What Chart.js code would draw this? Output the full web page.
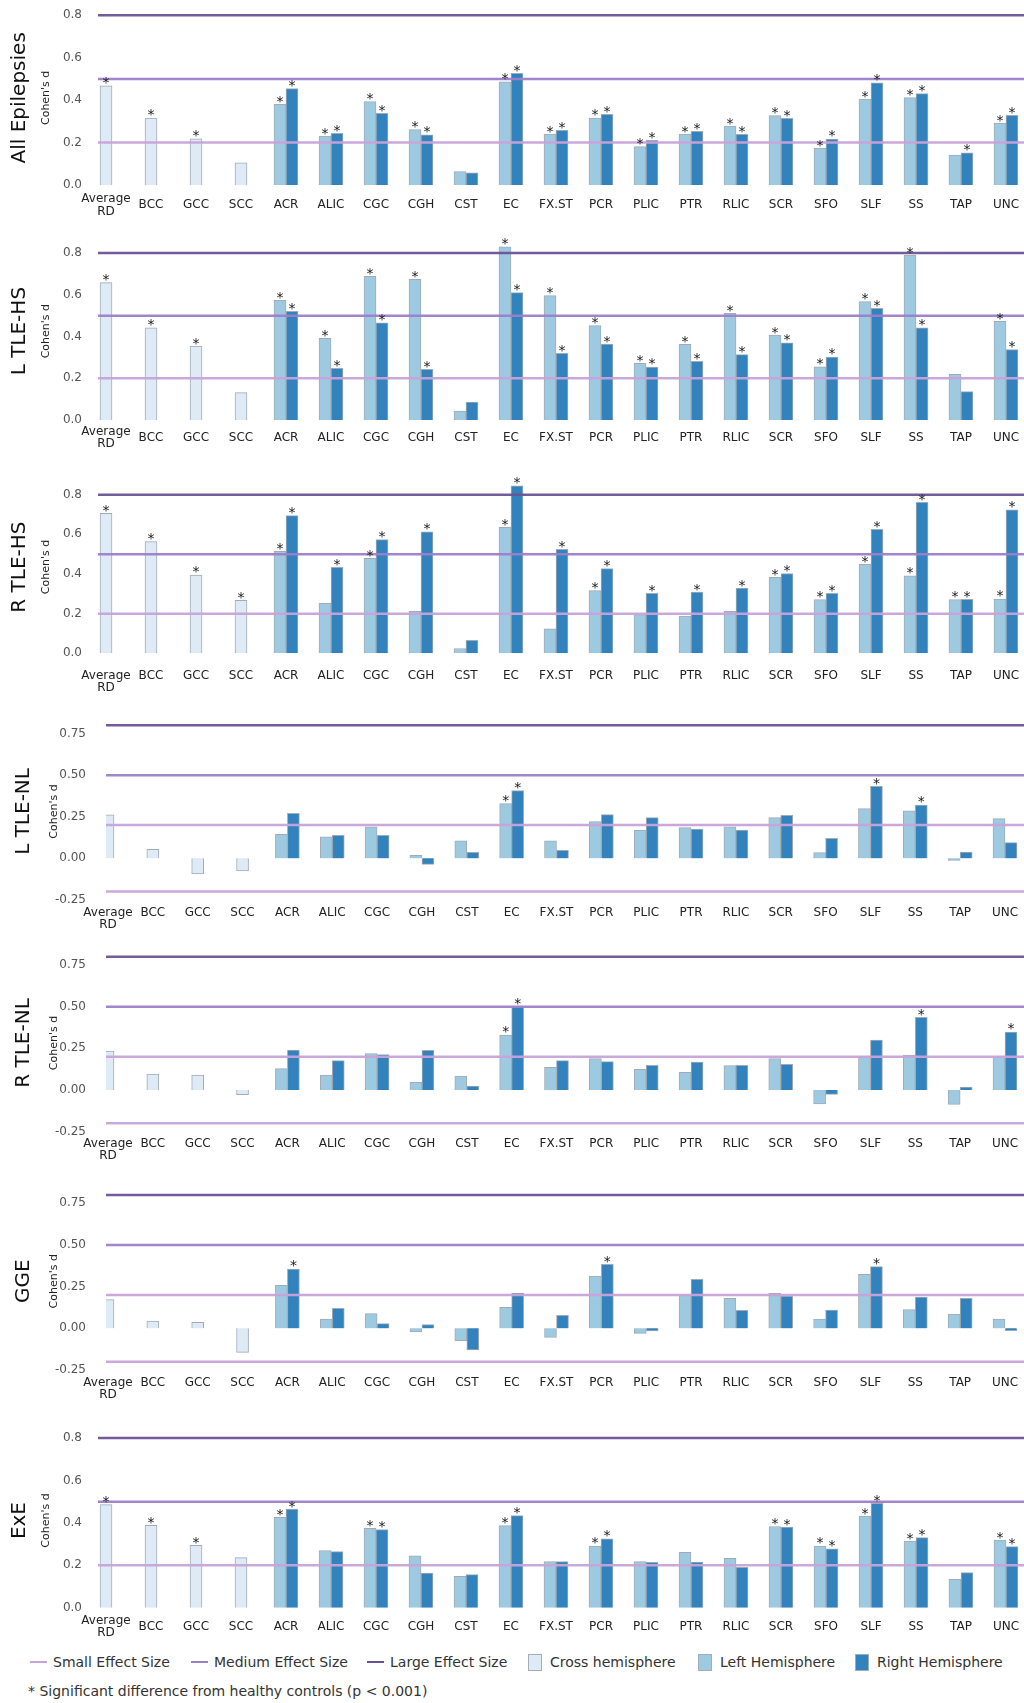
<!DOCTYPE html>
<html>
<head>
<meta charset="utf-8">
<title>Cohen's d by white matter tract</title>
<script src="https://cdn.jsdelivr.net/npm/chart.js@4.4.1/dist/chart.umd.min.js"></script>
<style>
  html, body { margin: 0; padding: 0; background: #fff; }
  #page { position: relative; width: 1024px; height: 1703px; overflow: hidden; background: #fff;
          font-family: 'DejaVu Sans', sans-serif; }
  #page canvas { position: absolute; left: 0; }
  .leg-item { position: absolute; font-size: 14px; color: #333; white-space: nowrap; line-height: 18px; }
  .leg-line { position: absolute; height: 2px; width: 17px; }
  .leg-box { position: absolute; width: 12px; height: 15px; border: 1px solid #a3adb8; }
</style>
</head>
<body>
<div id="page"></div>
<script>
// ---- categories -------------------------------------------------------
const tractLabels = [['Average', 'RD'], 'BCC', 'GCC', 'SCC', 'ACR', 'ALIC', 'CGC', 'CGH', 'CST', 'EC',
  'FX.ST', 'PCR', 'PLIC', 'PTR', 'RLIC', 'SCR', 'SFO', 'SLF', 'SS', 'TAP', 'UNC'];
const crossCount = 4;   // Average RD, BCC, GCC, SCC are cross-hemisphere measures

// ---- effect size reference lines and series names --------------------------
const effectSizes = [0.2, 0.5, 0.8];
const effectNames = ['Small Effect Size', 'Medium Effect Size', 'Large Effect Size'];
const seriesNames = ['Cross hemisphere', 'Left Hemisphere', 'Right Hemisphere'];
const positiveTicks = [0, 0.2, 0.4, 0.6, 0.8];
const signedTicks = [-0.25, 0, 0.25, 0.5, 0.75];
const footnote = '* Significant difference from healthy controls (p < 0.001)';

// ---- All Epilepsies ---------------------------------------------------
const allEpCross = [0.468, 0.316, 0.218, 0.105];
const allEpLeft  = [0.380, 0.231, 0.393, 0.261, 0.063, 0.486, 0.240, 0.316, 0.181, 0.240, 0.278, 0.327, 0.174, 0.405, 0.412, 0.141, 0.292];
const allEpRight = [0.454, 0.244, 0.338, 0.237, 0.057, 0.526, 0.258, 0.333, 0.211, 0.253, 0.239, 0.314, 0.217, 0.482, 0.431, 0.152, 0.328];
const allEpSigCross = [1, 1, 1, 0];
const allEpSigLeft  = [1, 1, 1, 1, 0, 1, 1, 1, 1, 1, 1, 1, 1, 1, 1, 0, 1];
const allEpSigRight = [1, 1, 1, 1, 0, 1, 1, 1, 1, 1, 1, 1, 1, 1, 1, 1, 1];

// ---- L TLE-HS ---------------------------------------------------------
const lHsCross = [0.658, 0.442, 0.354, 0.131];
const lHsLeft  = [0.573, 0.391, 0.688, 0.674, 0.043, 0.829, 0.596, 0.452, 0.271, 0.362, 0.511, 0.407, 0.255, 0.567, 0.790, 0.219, 0.473];
const lHsRight = [0.521, 0.248, 0.466, 0.243, 0.086, 0.610, 0.319, 0.364, 0.254, 0.281, 0.313, 0.370, 0.302, 0.535, 0.442, 0.136, 0.337];
const lHsSigCross = [1, 1, 1, 0];
const lHsSigLeft  = [1, 1, 1, 1, 0, 1, 1, 1, 1, 1, 1, 1, 1, 1, 1, 0, 1];
const lHsSigRight = [1, 1, 1, 1, 0, 1, 1, 1, 1, 1, 1, 1, 1, 1, 1, 0, 1];

// ---- R TLE-HS ---------------------------------------------------------
const rHsCross = [0.706, 0.563, 0.395, 0.267];
const rHsLeft  = [0.514, 0.252, 0.479, 0.212, 0.024, 0.635, 0.123, 0.316, 0.195, 0.188, 0.212, 0.383, 0.271, 0.449, 0.390, 0.271, 0.274];
const rHsRight = [0.694, 0.434, 0.573, 0.613, 0.066, 0.845, 0.524, 0.427, 0.303, 0.309, 0.329, 0.402, 0.303, 0.625, 0.761, 0.272, 0.724];
const rHsSigCross = [1, 1, 1, 1];
const rHsSigLeft  = [1, 0, 1, 0, 0, 1, 0, 1, 0, 0, 0, 1, 1, 1, 1, 1, 1];
const rHsSigRight = [1, 1, 1, 1, 0, 1, 1, 1, 1, 1, 1, 1, 1, 1, 1, 1, 1];

// ---- L TLE-NL ---------------------------------------------------------
const lNlCross = [0.261, 0.054, -0.094, -0.076];
const lNlLeft  = [0.144, 0.130, 0.189, 0.018, 0.106, 0.329, 0.106, 0.221, 0.168, 0.185, 0.189, 0.245, 0.034, 0.299, 0.285, -0.012, 0.239];
const lNlRight = [0.271, 0.138, 0.138, -0.036, 0.036, 0.407, 0.048, 0.263, 0.245, 0.176, 0.170, 0.259, 0.120, 0.433, 0.321, 0.038, 0.094];
const lNlSigCross = [0, 0, 0, 0];
const lNlSigLeft  = [0, 0, 0, 0, 0, 1, 0, 0, 0, 0, 0, 0, 0, 0, 0, 0, 0];
const lNlSigRight = [0, 0, 0, 0, 0, 1, 0, 0, 0, 0, 0, 0, 0, 1, 1, 0, 0];

// ---- R TLE-NL ---------------------------------------------------------
const rNlCross = [0.234, 0.096, 0.090, -0.028];
const rNlLeft  = [0.128, 0.090, 0.218, 0.046, 0.084, 0.330, 0.136, 0.188, 0.124, 0.106, 0.146, 0.188, -0.084, 0.200, 0.210, -0.086, 0.200];
const rNlRight = [0.240, 0.176, 0.212, 0.238, 0.024, 0.500, 0.176, 0.170, 0.148, 0.168, 0.148, 0.154, -0.026, 0.300, 0.436, 0.018, 0.348];
const rNlSigCross = [0, 0, 0, 0];
const rNlSigLeft  = [0, 0, 0, 0, 0, 1, 0, 0, 0, 0, 0, 0, 0, 0, 0, 0, 0];
const rNlSigRight = [0, 0, 0, 0, 0, 1, 0, 0, 0, 0, 0, 0, 0, 0, 1, 0, 1];

// ---- GGE --------------------------------------------------------------
const ggeCross = [0.172, 0.044, 0.036, -0.144];
const ggeLeft  = [0.258, 0.056, 0.088, -0.022, -0.074, 0.126, -0.054, 0.314, -0.030, 0.198, 0.180, 0.210, 0.056, 0.324, 0.112, 0.086, 0.056];
const ggeRight = [0.356, 0.120, 0.028, 0.022, -0.130, 0.212, 0.078, 0.384, -0.016, 0.294, 0.108, 0.194, 0.110, 0.370, 0.188, 0.180, -0.014];
const ggeSigCross = [0, 0, 0, 0];
const ggeSigLeft  = [0, 0, 0, 0, 0, 0, 0, 0, 0, 0, 0, 0, 0, 0, 0, 0, 0];
const ggeSigRight = [1, 0, 0, 0, 0, 0, 0, 1, 0, 0, 0, 0, 0, 1, 0, 0, 0];

// ---- ExE --------------------------------------------------------------
const exeCross = [0.486, 0.388, 0.294, 0.236];
const exeLeft  = [0.426, 0.269, 0.374, 0.245, 0.148, 0.387, 0.217, 0.291, 0.217, 0.261, 0.233, 0.383, 0.291, 0.432, 0.314, 0.134, 0.319];
const exeRight = [0.465, 0.264, 0.368, 0.163, 0.156, 0.434, 0.217, 0.325, 0.214, 0.215, 0.190, 0.380, 0.278, 0.492, 0.330, 0.165, 0.288];
const exeSigCross = [1, 1, 1, 0];
const exeSigLeft  = [1, 0, 1, 0, 0, 1, 0, 1, 0, 0, 0, 1, 1, 1, 1, 0, 1];
const exeSigRight = [1, 0, 1, 0, 0, 1, 0, 1, 0, 0, 0, 1, 1, 1, 1, 0, 1];

// ---- styling ----------------------------------------------------------
const effectColors = ['#c8a3d9', '#9c80cb', '#6b5297'];
const barColors = ['#deebf7', '#9ecae1', '#3182bd'];
const barEdge = '#a0abb6';
const FONT = "'DejaVu Sans', sans-serif";

// Panel table built from the arrays above
const panels = [
  { title: 'All Epilepsies', cross: allEpCross, left: allEpLeft, right: allEpRight, sig: [allEpSigCross, allEpSigLeft, allEpSigRight] },
  { title: 'L TLE-HS', cross: lHsCross, left: lHsLeft, right: lHsRight, sig: [lHsSigCross, lHsSigLeft, lHsSigRight] },
  { title: 'R TLE-HS', cross: rHsCross, left: rHsLeft, right: rHsRight, sig: [rHsSigCross, rHsSigLeft, rHsSigRight] },
  { title: 'L TLE-NL', cross: lNlCross, left: lNlLeft, right: lNlRight, sig: [lNlSigCross, lNlSigLeft, lNlSigRight] },
  { title: 'R TLE-NL', cross: rNlCross, left: rNlLeft, right: rNlRight, sig: [rNlSigCross, rNlSigLeft, rNlSigRight] },
  { title: 'GGE', cross: ggeCross, left: ggeLeft, right: ggeRight, sig: [ggeSigCross, ggeSigLeft, ggeSigRight] },
  { title: 'ExE', cross: exeCross, left: exeLeft, right: exeRight, sig: [exeSigCross, exeSigLeft, exeSigRight] }
];

// Page layout of each panel (canvas placement, plot box, axis ranges)
const pos = { left: 98, first: 106, step: 45, titleX: 20, unitX: 46, tickPad: 8, ticks: positiveTicks, digits: 1, yMin: 0 };
const neg = { left: 106, first: 108, step: 44.85, titleX: 24, unitX: 54, tickPad: 12, ticks: signedTicks, digits: 2, yMin: -0.25 };
const rows = [
  Object.assign({}, pos, { top: 0,    h: 228, areaTop: 4.7,    areaBottom: 185,    yMax: 0.85, labelPad: 6,     align: 'center' }),
  Object.assign({}, pos, { top: 228,  h: 238, areaTop: 236.3,  areaBottom: 420,    yMax: 0.88, labelPad: 3.5,   align: 'center' }),
  Object.assign({}, pos, { top: 466,  h: 239, areaTop: 474.8,  areaBottom: 653.3,  yMax: 0.9,  labelPad: 8,     align: 'near' }),
  Object.assign({}, neg, { top: 705,  h: 235, areaTop: 717.0,  areaBottom: 899.9,  yMax: 0.85, labelPad: -1.75, align: 'near' }),
  Object.assign({}, neg, { top: 940,  h: 235, areaTop: 948.3,  areaBottom: 1131.7, yMax: 0.85, labelPad: -2.5,  align: 'near' }),
  Object.assign({}, neg, { top: 1175, h: 237, areaTop: 1186.6, areaBottom: 1370,   yMax: 0.85, labelPad: -1.75, align: 'near' }),
  Object.assign({}, pos, { top: 1412, h: 233, areaTop: 1427.4, areaBottom: 1607.7, yMax: 0.85, labelPad: 4.8,   align: 'center' })
];

// Effect-size lines, significance stars and rotated panel captions
const panelDecor = {
  id: 'panelDecor',
  afterDatasetsDraw(chart) {
    const { ctx, chartArea: a, scales: { y } } = chart;
    ctx.save();
    effectSizes.forEach((v, k) => {
      [v, -v].forEach(val => {
        if (val < y.min || val > y.max) return;
        const py = y.getPixelForValue(val);
        ctx.strokeStyle = effectColors[k];
        ctx.globalAlpha = 0.95;
        ctx.lineWidth = 2.5;
        ctx.beginPath();
        ctx.moveTo(a.left, py);
        ctx.lineTo(a.right, py);
        ctx.stroke();
      });
    });
    ctx.globalAlpha = 1;
    ctx.fillStyle = '#1a1a1a';
    ctx.font = '14px ' + FONT;
    ctx.textAlign = 'center';
    ctx.textBaseline = 'alphabetic';
    chart.data.datasets.forEach((ds, d) => {
      const meta = chart.getDatasetMeta(d);
      meta.data.forEach((el, i) => {
        const pt = ds.data[i];
        if (!ds.sig[i] || pt.y === null) return;
        ctx.fillText('*', el.x, Math.min(el.y, el.base) + 1.5);
      });
    });
    ctx.restore();
  },
  afterDraw(chart, args, opts) {
    const { ctx, chartArea: a } = chart;
    const mid = (a.top + a.bottom) / 2 + 3;
    ctx.save();
    ctx.fillStyle = '#111';
    ctx.textAlign = 'center';
    ctx.textBaseline = 'middle';
    ctx.translate(opts.titleX, mid);
    ctx.rotate(-Math.PI / 2);
    ctx.font = '20px ' + FONT;
    ctx.fillText(opts.title, 0, 0);
    ctx.restore();
    ctx.save();
    ctx.fillStyle = '#222';
    ctx.textAlign = 'center';
    ctx.textBaseline = 'middle';
    ctx.translate(opts.unitX, mid);
    ctx.rotate(-Math.PI / 2);
    ctx.font = '11px ' + FONT;
    ctx.fillText("Cohen's d", 0, 0);
    ctx.restore();
  }
};

const page = document.getElementById('page');

function spread(values, offset) {
  return tractLabels.map((_, i) => {
    const k = i - offset;
    return { x: i, y: (k >= 0 && k < values.length) ? values[k] : null };
  });
}
function spreadFlags(flags, offset) {
  return tractLabels.map((_, i) => {
    const k = i - offset;
    return (k >= 0 && k < flags.length) ? flags[k] : 0;
  });
}
// keep the plot box exactly where the layout table puts it
function noOverhang(ax) {
  ax.paddingTop = 0;
  ax.paddingBottom = 0;
  ax.paddingLeft = 0;
  ax.paddingRight = 0;
}

panels.forEach((p, idx) => {
  const L = rows[idx];
  const canvas = document.createElement('canvas');
  canvas.width = 1024;
  canvas.height = L.h;
  canvas.style.top = L.top + 'px';
  canvas.style.width = '1024px';
  canvas.style.height = L.h + 'px';
  page.appendChild(canvas);

  const groups = [p.cross, p.left, p.right];
  const offsets = [0, crossCount, crossCount];
  const datasets = groups.map((vals, g) => ({
    label: seriesNames[g],
    data: spread(vals, offsets[g]),
    sig: spreadFlags(p.sig[g], offsets[g]),
    backgroundColor: barColors[g],
    borderColor: barEdge,
    borderWidth: 1
  }));

  new Chart(canvas, {
    type: 'bar',
    data: { datasets },
    plugins: [panelDecor],
    options: {
      responsive: false,
      animation: false,
      devicePixelRatio: 1,
      layout: { padding: { top: L.areaTop - L.top, right: 0, left: 0, bottom: 0 } },
      datasets: { bar: { skipNull: true, barThickness: 12, clip: 0 } },
      plugins: {
        legend: { display: false },
        tooltip: { enabled: false },
        panelDecor: { title: p.title, titleX: L.titleX, unitX: L.unitX }
      },
      scales: {
        x: {
          type: 'linear',
          bounds: 'data',
          offset: false,
          min: (L.left - L.first) / L.step,
          max: (1024 - L.first) / L.step,
          grid: { display: false },
          border: { display: false },
          afterBuildTicks: ax => { ax.ticks = tractLabels.map((_, i) => ({ value: i })); },
          afterFit: ax => { ax.height = L.top + L.h - L.areaBottom; noOverhang(ax); },
          ticks: {
            autoSkip: false, maxRotation: 0, minRotation: 0,
            padding: L.labelPad, crossAlign: L.align, color: '#222',
            font: { family: FONT, size: 12, lineHeight: 1.05 },
            callback: v => tractLabels[Math.round(v)]
          }
        },
        y: {
          type: 'linear',
          bounds: 'data',
          min: L.yMin,
          max: L.yMax,
          grid: { display: false },
          border: { display: false },
          afterBuildTicks: ax => { ax.ticks = L.ticks.map(v => ({ value: v })); },
          afterFit: ax => { ax.width = L.left; noOverhang(ax); },
          ticks: {
            padding: L.tickPad, color: '#555',
            font: { family: FONT, size: 12 },
            callback: v => Number(v).toFixed(L.digits)
          }
        }
      }
    }
  });
});

// ---- legend and footnote ----------------------------------------------
const legendY = 1662;
const lineItemX = [30, 191, 367];
const boxItemX = [528, 698, 855];
effectNames.forEach((name, k) => {
  const ln = document.createElement('div');
  ln.className = 'leg-line';
  ln.style.left = lineItemX[k] + 'px';
  ln.style.top = (legendY - 1) + 'px';
  ln.style.background = effectColors[k];
  page.appendChild(ln);
  const tx = document.createElement('div');
  tx.className = 'leg-item';
  tx.style.left = (lineItemX[k] + 23) + 'px';
  tx.style.top = (legendY - 9) + 'px';
  tx.textContent = name;
  page.appendChild(tx);
});
seriesNames.forEach((name, k) => {
  const bx = document.createElement('div');
  bx.className = 'leg-box';
  bx.style.left = boxItemX[k] + 'px';
  bx.style.top = (legendY - 8) + 'px';
  bx.style.background = barColors[k];
  page.appendChild(bx);
  const tx = document.createElement('div');
  tx.className = 'leg-item';
  tx.style.left = (boxItemX[k] + 22) + 'px';
  tx.style.top = (legendY - 9) + 'px';
  tx.textContent = name;
  page.appendChild(tx);
});
const fn = document.createElement('div');
fn.className = 'leg-item';
fn.style.left = '28px';
fn.style.top = '1682px';
fn.textContent = footnote;
page.appendChild(fn);
</script>
</body>
</html>
